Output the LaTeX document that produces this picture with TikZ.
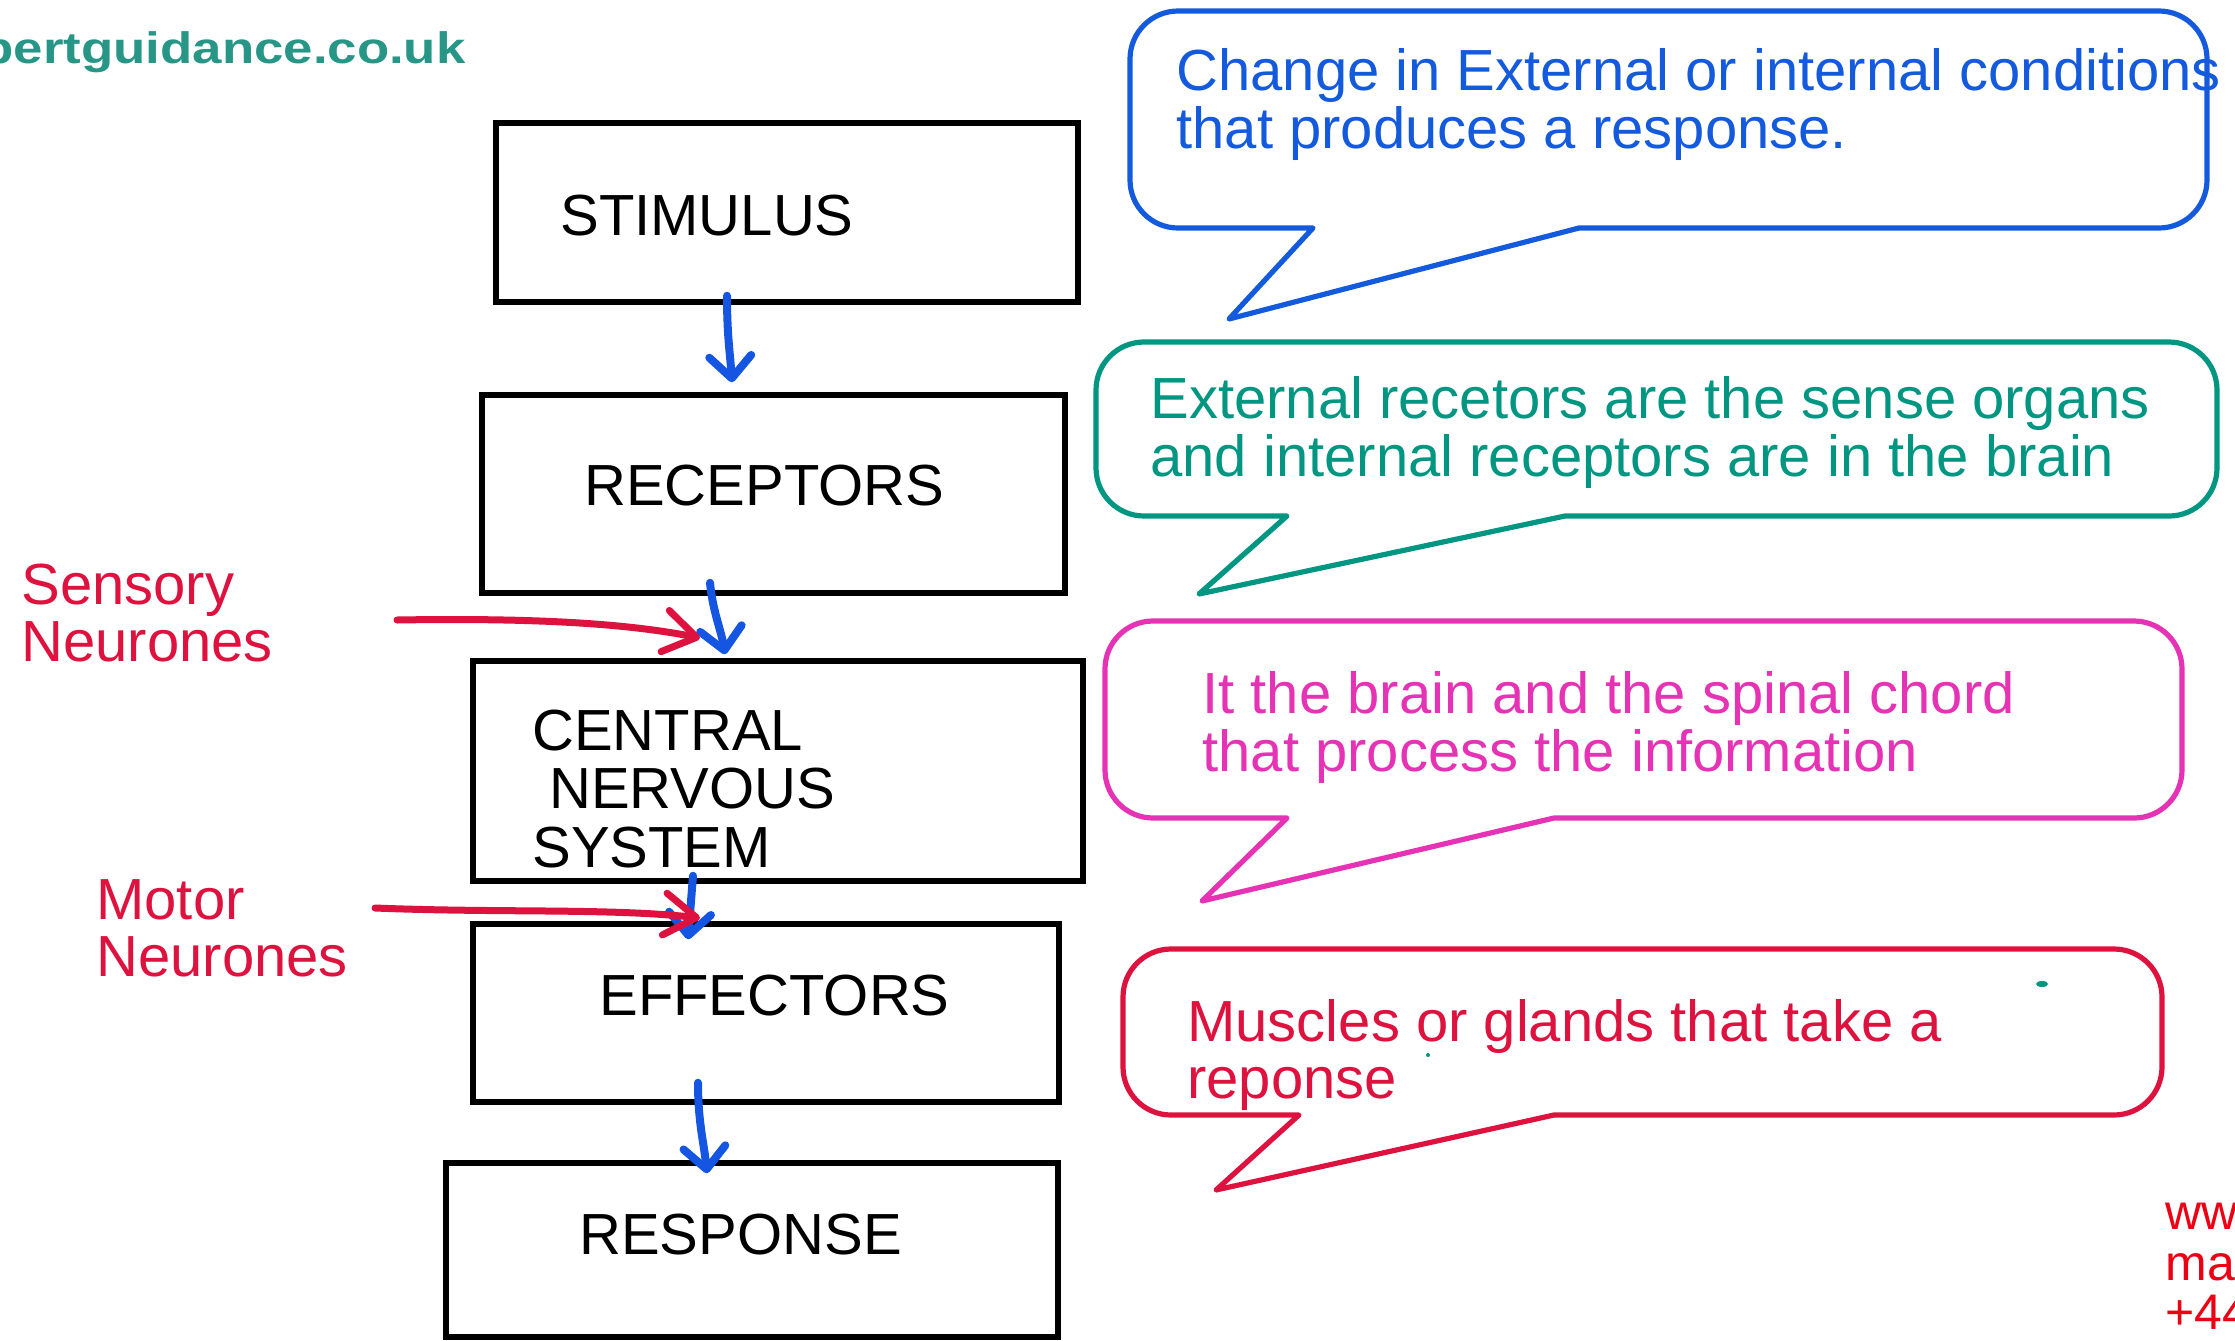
\documentclass[tikz,border=0pt]{standalone}
\usepackage{fontspec}
\setmainfont{Liberation Sans}
\usetikzlibrary{arrows.meta,calc}
\definecolor{cblue}{RGB}{20,90,220}
\definecolor{cteal}{RGB}{0,150,130}
\definecolor{cpink}{RGB}{230,50,180}
\definecolor{cred}{RGB}{222,18,62}
\definecolor{arrblue}{RGB}{20,85,225}
\definecolor{urlteal}{RGB}{40,150,135}
\definecolor{pred}{RGB}{235,0,20}
\tikzset{
  box/.style={draw=black, line width=2.75pt, inner sep=0pt, rectangle},
  txt/.style={font=\fontsize{29}{29}\selectfont, inner sep=0pt, anchor=base west},
  callout/.style={line width=2.6pt, line join=round},
  bluearr/.style={draw=arrblue, line width=4pt, line cap=round, line join=round,
    -{Straight Barb[length=11pt,width=21pt,round]}},
  redarr/.style={draw=cred, line width=3.5pt, line cap=round, line join=round,
    -{Straight Barb[length=16pt,width=21pt,round]}},
}
\begin{document}
\begin{tikzpicture}[x=0.5pt,y=-0.5pt]
\useasboundingbox (0,0) rectangle (2235,1340);
\clip (0,0) rectangle (2235,1340);

% flow boxes
\node[box, minimum width=291pt, minimum height=89.5pt] (stim) at (787,212.5) {};
\node[box, minimum width=291.5pt, minimum height=99pt] (rec) at (773.5,494) {};
\node[box, minimum width=305pt, minimum height=110pt] (cns) at (778,771) {};
\node[box, minimum width=293pt, minimum height=89pt] (eff) at (766,1013) {};
\node[box, minimum width=306pt, minimum height=87pt] (resp) at (752,1250) {};

% box texts
\node[txt] (tstim) at (560,235) {STIMULUS};
\node[txt] (trec) at (584,505) {RECEPTORS};
\node[txt] (tcns1) at (532,750) {CENTRAL};
\node[txt] (tcns2) at (549,808) {NERVOUS};
\node[txt] (tcns3) at (532,867) {SYSTEM};
\node[txt] (teff) at (599,1015) {EFFECTORS};
\node[txt] (tresp) at (579,1254) {RESPONSE};

% blue flow arrows
\draw[bluearr] ($(stim.south)+(-60,-9)$) .. controls +(0,40) and +(-2,-30) .. ($(rec.north)+(-41.5,-10)$);
\draw[bluearr] ($(rec.south)+(-63.5,-13)$) .. controls +(3,30) and +(-4,-25) .. ($(cns.north)+(-53,-4)$);
\draw[bluearr] ($(cns.south)+(-85,-8)$) -- ($(eff.north)+(-78,18)$);
\draw[bluearr] ($(eff.south)+(-68,-22)$) .. controls +(0,40) and +(-3,-30) .. ($(resp.north)+(-45,13)$);

% left labels and red arrows
\node[txt, text=cred] (sens1) at (21,604) {Sensory};
\node[txt, text=cred] (sens2) at (21,661) {Neurones};
\node[txt, text=cred] (mot1) at (96,919) {Motor};
\node[txt, text=cred] (mot2) at (96,976) {Neurones};
\coordinate (s0) at (397,620);
\coordinate (s1) at (700,638);
\coordinate (m0) at (375,908);
\coordinate (m1) at (700,918);
\draw[redarr] (s0) .. controls (520,618) and (620,622) .. (s1);
\draw[redarr] (m0) .. controls (500,913) and (610,908) .. (m1);

% callouts
\draw[callout, draw=cblue] (1579,228) [rounded corners=24pt] -- (2207,228) -- (2207,11) -- (1130,11) -- (1130,228) [sharp corners] -- (1313,228) -- (1229,319) -- cycle;
\draw[callout, draw=cteal] (1565,516) [rounded corners=24pt] -- (2217,516) -- (2217,342) -- (1096,342) -- (1096,516) [sharp corners] -- (1287,516) -- (1199,594) -- cycle;
\draw[callout, draw=cpink] (1554,818) [rounded corners=24pt] -- (2182,818) -- (2182,621) -- (1105,621) -- (1105,818) [sharp corners] -- (1287,818) -- (1202,901) -- cycle;
\draw[callout, draw=cred] (1554,1115) [rounded corners=24pt] -- (2162,1115) -- (2162,949) -- (1123,949) -- (1123,1115) [sharp corners] -- (1299,1115) -- (1216,1190) -- cycle;

% callout texts
\node[txt, text=cblue] (c1a) at (1176,90) {Change in External or internal conditions};
\node[txt, text=cblue] (c1b) at (1176,148) {that produces a response.};
\node[txt, text=cteal] (c2a) at (1150,418) {External recetors are the sense organs};
\node[txt, text=cteal] (c2b) at (1150,476) {and internal receptors are in the brain};
\node[txt, text=cpink] (c3a) at (1202,713) {It the brain and the spinal chord};
\node[txt, text=cpink] (c3b) at (1202,771) {that process the information};
\node[txt, text=cred] (c4a) at (1187,1041) {Muscles or glands that take a};
\node[txt, text=cred] (c4b) at (1187,1098) {reponse};

% stray dots
\fill[cteal] (2042,984) ellipse (3pt and 1.5pt);
\fill[cteal] (1428,1055) circle (1pt);

% corner texts
\node[inner sep=0pt, anchor=base east, text=urlteal, font=\fontsize{22}{22}\selectfont\bfseries] (url) at (466,63) {\scalebox{1.2}[1]{expertguidance.co.uk}};
\node[inner sep=0pt, anchor=base west, text=pred, font=\fontsize{25}{25}\selectfont] (w1) at (2165,1229) {www};
\node[inner sep=0pt, anchor=base west, text=pred, font=\fontsize{25}{25}\selectfont] (w2) at (2165,1280) {mail};
\node[inner sep=0pt, anchor=base west, text=pred, font=\fontsize{25}{25}\selectfont] (w3) at (2165,1329) {+44};
\end{tikzpicture}
\end{document}
